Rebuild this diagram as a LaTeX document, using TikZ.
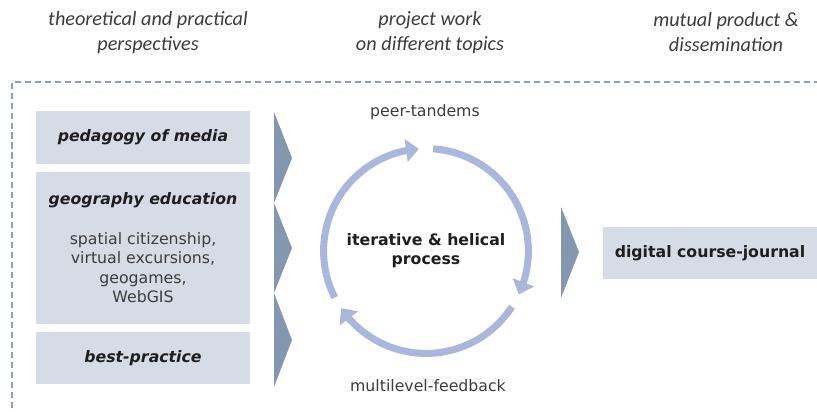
\documentclass[tikz,border=0pt]{standalone}
\usepackage{fontspec}
\setmainfont{DejaVu Sans}
\newfontfamily\headfont{Carlito}
\usetikzlibrary{positioning,arrows.meta,bending}
\definecolor{boxgrey}{HTML}{D6DCE5}
\definecolor{chevron}{HTML}{8497B0}
\definecolor{cyclearc}{HTML}{AAB7DD}
\definecolor{framegrey}{HTML}{8FA0B5}
\definecolor{txtdark}{HTML}{1E1E1E}
\definecolor{txtgrey}{HTML}{3C3C3C}

\begin{document}
\begin{tikzpicture}[every node/.style={align=center, text=txtdark},
  topic/.style={fill=boxgrey, minimum width=5.35cm, inner sep=0pt, font=\bfseries\itshape\fontsize{11.2}{13.5}\selectfont},
  result/.style={fill=boxgrey, minimum width=5.35cm, minimum height=1.3cm, inner sep=0pt, font=\bfseries\fontsize{11.2}{13.5}\selectfont},
  head/.style={font=\headfont\itshape\fontsize{14.4}{17.8}\selectfont, text=txtgrey},
  label/.style={font=\fontsize{11.2}{13.5}\selectfont, text=txtgrey},
  cyc/.style={line width=5pt, cyclearc, -{Triangle[length=0.32cm, width=0.56cm]}}]
\useasboundingbox (0,0) rectangle (20.425,-10.3);

% phases
\node[head] at (3.7,-0.81) (theory) {theoretical and practical\\perspectives};
\node[head] at (10.75,-0.81) (project) {project work\\on different topics};
\node[head] at (18.15,-0.81) (product) {mutual product \&\\dissemination};

\draw[framegrey, line width=0.8pt, dash pattern=on 4.3pt off 2.8pt] (0.3,-10.7) |- (20.8,-2.05);

% perspectives
\node[topic, minimum height=1.325cm] at (3.575,-3.44) (media) {pedagogy of media};
\node[topic, minimum height=3.8cm, below=0.175cm of media, font=\fontsize{11.2}{13.8}\selectfont] (geo) {\textbf{\textit{geography education}}\\[14.4pt]
  \textcolor{txtgrey}{spatial citizenship,}\\\textcolor{txtgrey}{virtual excursions,}\\\textcolor{txtgrey}{geogames,}\\\textcolor{txtgrey}{WebGIS}};
\node[topic, minimum height=1.3cm, below=0.2cm of geo] (practice) {best-practice};

\foreach \ya/\yb/\yc in {-2.8/-3.95/-5.075, -5.075/-6.2/-7.325, -7.325/-8.5/-9.675}
  \fill[chevron] (6.85,\ya) -- (7.3,\yb) -- (6.85,\yc) -- cycle;

% project work cycle
\coordinate (hub) at (10.65,-6.275);
\node[font=\bfseries\fontsize{11.2}{13.5}\selectfont] at (hub) (process) {iterative \& helical\\process};
\node[label] at (10.625,-2.8) (tandem) {peer-tandems};
\node[label] at (10.7,-9.63) (feedback) {multilevel-feedback};
\draw[cyc] (hub) ++(207:2.56) arc[start angle=207, end angle=94, radius=2.56];
\draw[cyc] (hub) ++(86:2.56) arc[start angle=86, end angle=-25, radius=2.56];
\draw[cyc] (hub) ++(-33:2.56) arc[start angle=-33, end angle=-146, radius=2.56];

% product
\fill[chevron] (14.025,-5.175) -- (14.475,-6.3) -- (14.025,-7.45) -- cycle;
\node[result] at (17.75,-6.325) (journal) {digital course-journal};
\end{tikzpicture}
\end{document}
